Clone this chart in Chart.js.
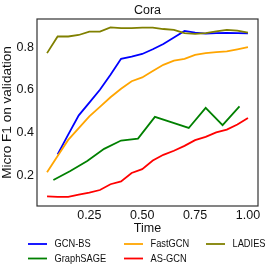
<!DOCTYPE html>
<html>
<head>
<meta charset="utf-8">
<script src="https://cdn.jsdelivr.net/npm/chart.js@4"></script>
<style>
    html, body { margin: 0; padding: 0; background: #fff; }
    #wrap { position: relative; width: 274px; height: 274px; }
</style>
</head>
<body>
<div id="wrap"><canvas id="chart" width="274" height="274"></canvas></div>
<script>
// ── Data ─────────────────────────────────────────────────────────────────────
const timeStep05 = [0.05, 0.10, 0.15, 0.20, 0.25, 0.30, 0.35, 0.40, 0.45, 0.50,
                    0.55, 0.60, 0.65, 0.70, 0.75, 0.80, 0.85, 0.90, 0.95, 1.00];
const timeGcnBs = timeStep05.slice(1);
const timeSage = [0.08, 0.16, 0.24, 0.32, 0.40, 0.48, 0.56, 0.64, 0.72, 0.80, 0.88, 0.96];

const gcnBs    = [0.297, 0.39, 0.48, 0.54, 0.60, 0.67, 0.745, 0.755, 0.768, 0.79,
                  0.815, 0.845, 0.876, 0.868, 0.863, 0.866, 0.867, 0.866, 0.865];
const fastGcn  = [0.213, 0.29, 0.365, 0.42, 0.475, 0.52, 0.565, 0.605, 0.64, 0.658,
                  0.688, 0.717, 0.737, 0.745, 0.764, 0.772, 0.777, 0.78, 0.79, 0.80];
const ladies   = [0.772, 0.85, 0.85, 0.857, 0.873, 0.873, 0.893, 0.889, 0.889, 0.892,
                  0.892, 0.885, 0.881, 0.866, 0.862, 0.866, 0.874, 0.881, 0.877, 0.868];
const graphSage = [0.177, 0.219, 0.266, 0.323, 0.362, 0.371, 0.473, 0.447, 0.421, 0.515, 0.434, 0.522];
const asGcn    = [0.10, 0.098, 0.098, 0.108, 0.118, 0.13, 0.157, 0.17, 0.21, 0.228,
                  0.268, 0.295, 0.314, 0.337, 0.364, 0.379, 0.40, 0.413, 0.437, 0.468];

const xTicks = [0.25, 0.50, 0.75, 1.00];
const yTicks = [0.2, 0.4, 0.6, 0.8];

const chartTitle = 'Cora';
const xTitle = 'Time';
const yTitle = 'Micro F1 on validation';

// legend order as in the figure (column-wise fill, 3 columns)
const legendItems = [
    { label: 'GCN-BS', color: '#0000ff' },
    { label: 'FastGCN', color: '#ffa500' },
    { label: 'LADIES', color: '#808000' },
    { label: 'GraphSAGE', color: '#008000' },
    { label: 'AS-GCN', color: '#ff0000' }
];

const FONT = '"Liberation Sans", Arial, sans-serif';
const pts = (xs, ys) => ys.map((y, i) => ({ x: xs[i], y }));

function line(label, color, data) {
    return {
        label, data,
        borderColor: color,
        backgroundColor: color,
        borderWidth: 1.8,
        pointRadius: 0,
        tension: 0,
        fill: false
    };
}

// ── Extra drawing: frame, titles, legend ────────────────────────────────────
const decor = {
    id: 'decor',
    afterDatasetsDraw(chart) {
        const { ctx, chartArea: a } = chart;
        ctx.save();
        ctx.strokeStyle = '#333';
        ctx.lineWidth = 1.2;
        ctx.strokeRect(a.left, a.top, a.right - a.left, a.bottom - a.top);

        ctx.fillStyle = '#111';
        ctx.font = '12.5px ' + FONT;
        ctx.textAlign = 'center';
        ctx.textBaseline = 'middle';
        const cx = (a.left + a.right) / 2;
        ctx.fillText(chartTitle, cx, 11);
        ctx.fillText(xTitle, cx, 229);

        ctx.save();
        ctx.translate(8, (a.top + a.bottom) / 2);
        ctx.rotate(-Math.PI / 2);
        ctx.scale(1.13, 1);
        ctx.font = '12px ' + FONT;
        ctx.fillText(yTitle, 0, 0);
        ctx.restore();

        // legend
        const colX = [28, 124, 206];
        const rowY = [244, 258.5];
        ctx.font = '9.3px ' + FONT;
        ctx.textAlign = 'left';
        legendItems.forEach((it, i) => {
            const x = colX[i % 3];
            const y = rowY[Math.floor(i / 3)];
            ctx.strokeStyle = it.color;
            ctx.lineWidth = 1.8;
            ctx.beginPath();
            ctx.moveTo(x, y);
            ctx.lineTo(x + 19, y);
            ctx.stroke();
            ctx.save();
            ctx.translate(x + 26.5, y + 0.5);
            ctx.scale(1, 1.15);
            ctx.fillStyle = '#111';
            ctx.fillText(it.label, 0, 0);
            ctx.restore();
        });
        ctx.restore();
    }
};

new Chart(document.getElementById('chart'), {
    type: 'line',
    data: {
        datasets: [
            line('LADIES', '#808000', pts(timeStep05, ladies)),
            line('AS-GCN', '#ff0000', pts(timeStep05, asGcn)),
            line('FastGCN', '#ffa500', pts(timeStep05, fastGcn)),
            line('GraphSAGE', '#008000', pts(timeSage, graphSage)),
            line('GCN-BS', '#0000ff', pts(timeGcnBs, gcnBs))
        ]
    },
    options: {
        responsive: false,
        animation: false,
        devicePixelRatio: 1,
        layout: { padding: { left: 0, top: 19, right: 16, bottom: 0 } },
        plugins: {
            legend: { display: false },
            title: { display: false },
            tooltip: { enabled: false }
        },
        scales: {
            x: {
                type: 'linear',
                min: 0.0025,
                max: 1.0475,
                grid: { display: false, drawTicks: false },
                border: { display: false },
                afterBuildTicks: s => { s.ticks = xTicks.map(v => ({ value: v })); },
                afterFit: s => { s.height = 68; },
                ticks: {
                    padding: 2,
                    color: '#111',
                    font: { size: 12.5, family: FONT },
                    maxRotation: 0,
                    callback: v => v.toFixed(2)
                }
            },
            y: {
                min: 0.055,
                max: 0.932,
                grid: { display: false, drawTicks: false },
                border: { display: false },
                afterBuildTicks: s => { s.ticks = yTicks.map(v => ({ value: v })); },
                afterFit: s => { s.width = 37; },
                ticks: {
                    padding: 3,
                    color: '#111',
                    font: { size: 12.5, family: FONT },
                    callback: v => v.toFixed(1)
                }
            }
        }
    },
    plugins: [decor]
});
</script>
</body>
</html>
